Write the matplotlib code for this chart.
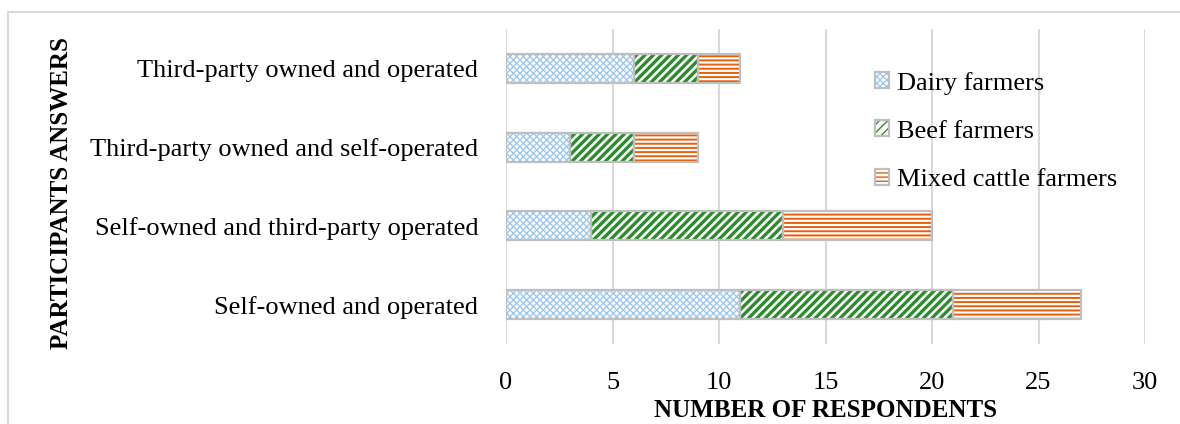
import matplotlib
matplotlib.use("Agg")
import matplotlib.pyplot as plt
from matplotlib.patches import Patch, Rectangle
from matplotlib.legend_handler import HandlerTuple
import numpy as np

plt.rcParams['font.family'] = ['Liberation Serif', 'DejaVu Serif']

categories = ["Self-owned and operated",
              "Self-owned and third-party operated",
              "Third-party owned and self-operated",
              "Third-party owned and operated"]
dairy = [11, 4, 3, 6]
beef = [10, 9, 3, 3]
mixed = [6, 7, 3, 2]

series = [("Dairy farmers", dairy, "#9DC8EC", "xxxxx", 1.0),
          ("Beef farmers", beef, "#2E8B2E", "////", 2.4),
          ("Mixed cattle farmers", mixed, "#E4600C", "----", 1.4)]

fig = plt.figure(figsize=(11.8, 4.24), dpi=100)
# light frame round the chart
fig.patches.append(Rectangle((8 / 1180, -0.05), 1.1, 1 - 12 / 424 + 0.05,
                             transform=fig.transFigure, fill=False,
                             edgecolor="#D9D9D9", linewidth=1.5))

ax = fig.add_axes([506 / 1180, 1 - 344 / 424, 639 / 1180, 315 / 424])
y = np.arange(len(categories))
left = np.zeros(len(categories))
handles = []
for name, vals, col, hatch, hlw in series:
    with plt.rc_context({'hatch.linewidth': hlw, 'hatch.color': col}):
        ax.barh(y, vals, 0.37, left=left, color="white", edgecolor=col,
                hatch=hatch, linewidth=0, zorder=2)
        hp = Patch(facecolor="white", edgecolor=col, hatch=hatch, linewidth=0)
    ax.barh(y, vals, 0.37, left=left, fill=False, edgecolor="#BFBFBF",
            linewidth=1.6, zorder=3)
    bp = Patch(fill=False, edgecolor="#BFBFBF", linewidth=1.6)
    handles.append((hp, bp))
    left = left + np.array(vals)

ax.set_xlim(0, 30)
ax.set_ylim(-0.5, 3.5)
ax.set_xticks(range(0, 31, 5))
ax.set_yticks(y)
ax.set_yticklabels(categories, fontsize=19)
ax.tick_params(axis='y', length=0, pad=20)
ax.tick_params(axis='x', length=0, pad=20, labelsize=19)
ax.grid(axis='x', color="#D9D9D9", linewidth=1.5)
ax.set_axisbelow(True)
for s in ax.spines.values():
    s.set_visible(False)

ax.set_xlabel("NUMBER OF RESPONDENTS", fontsize=18, fontweight='bold', labelpad=4)
fig.text(62 / 1180, 1 - 193 / 424, "PARTICIPANTS ANSWERS", rotation=90,
         fontsize=18, fontweight='bold', ha='center', va='center')

ax.legend(handles, [s[0] for s in series], handler_map={tuple: HandlerTuple(ndivide=1)},
          loc='upper left', bbox_to_anchor=(0.54, 0.94), frameon=False,
          fontsize=19, handlelength=0.55, handleheight=0.55, handletextpad=0.3,
          labelspacing=0.98)

fig.savefig("out.png", dpi=100)
